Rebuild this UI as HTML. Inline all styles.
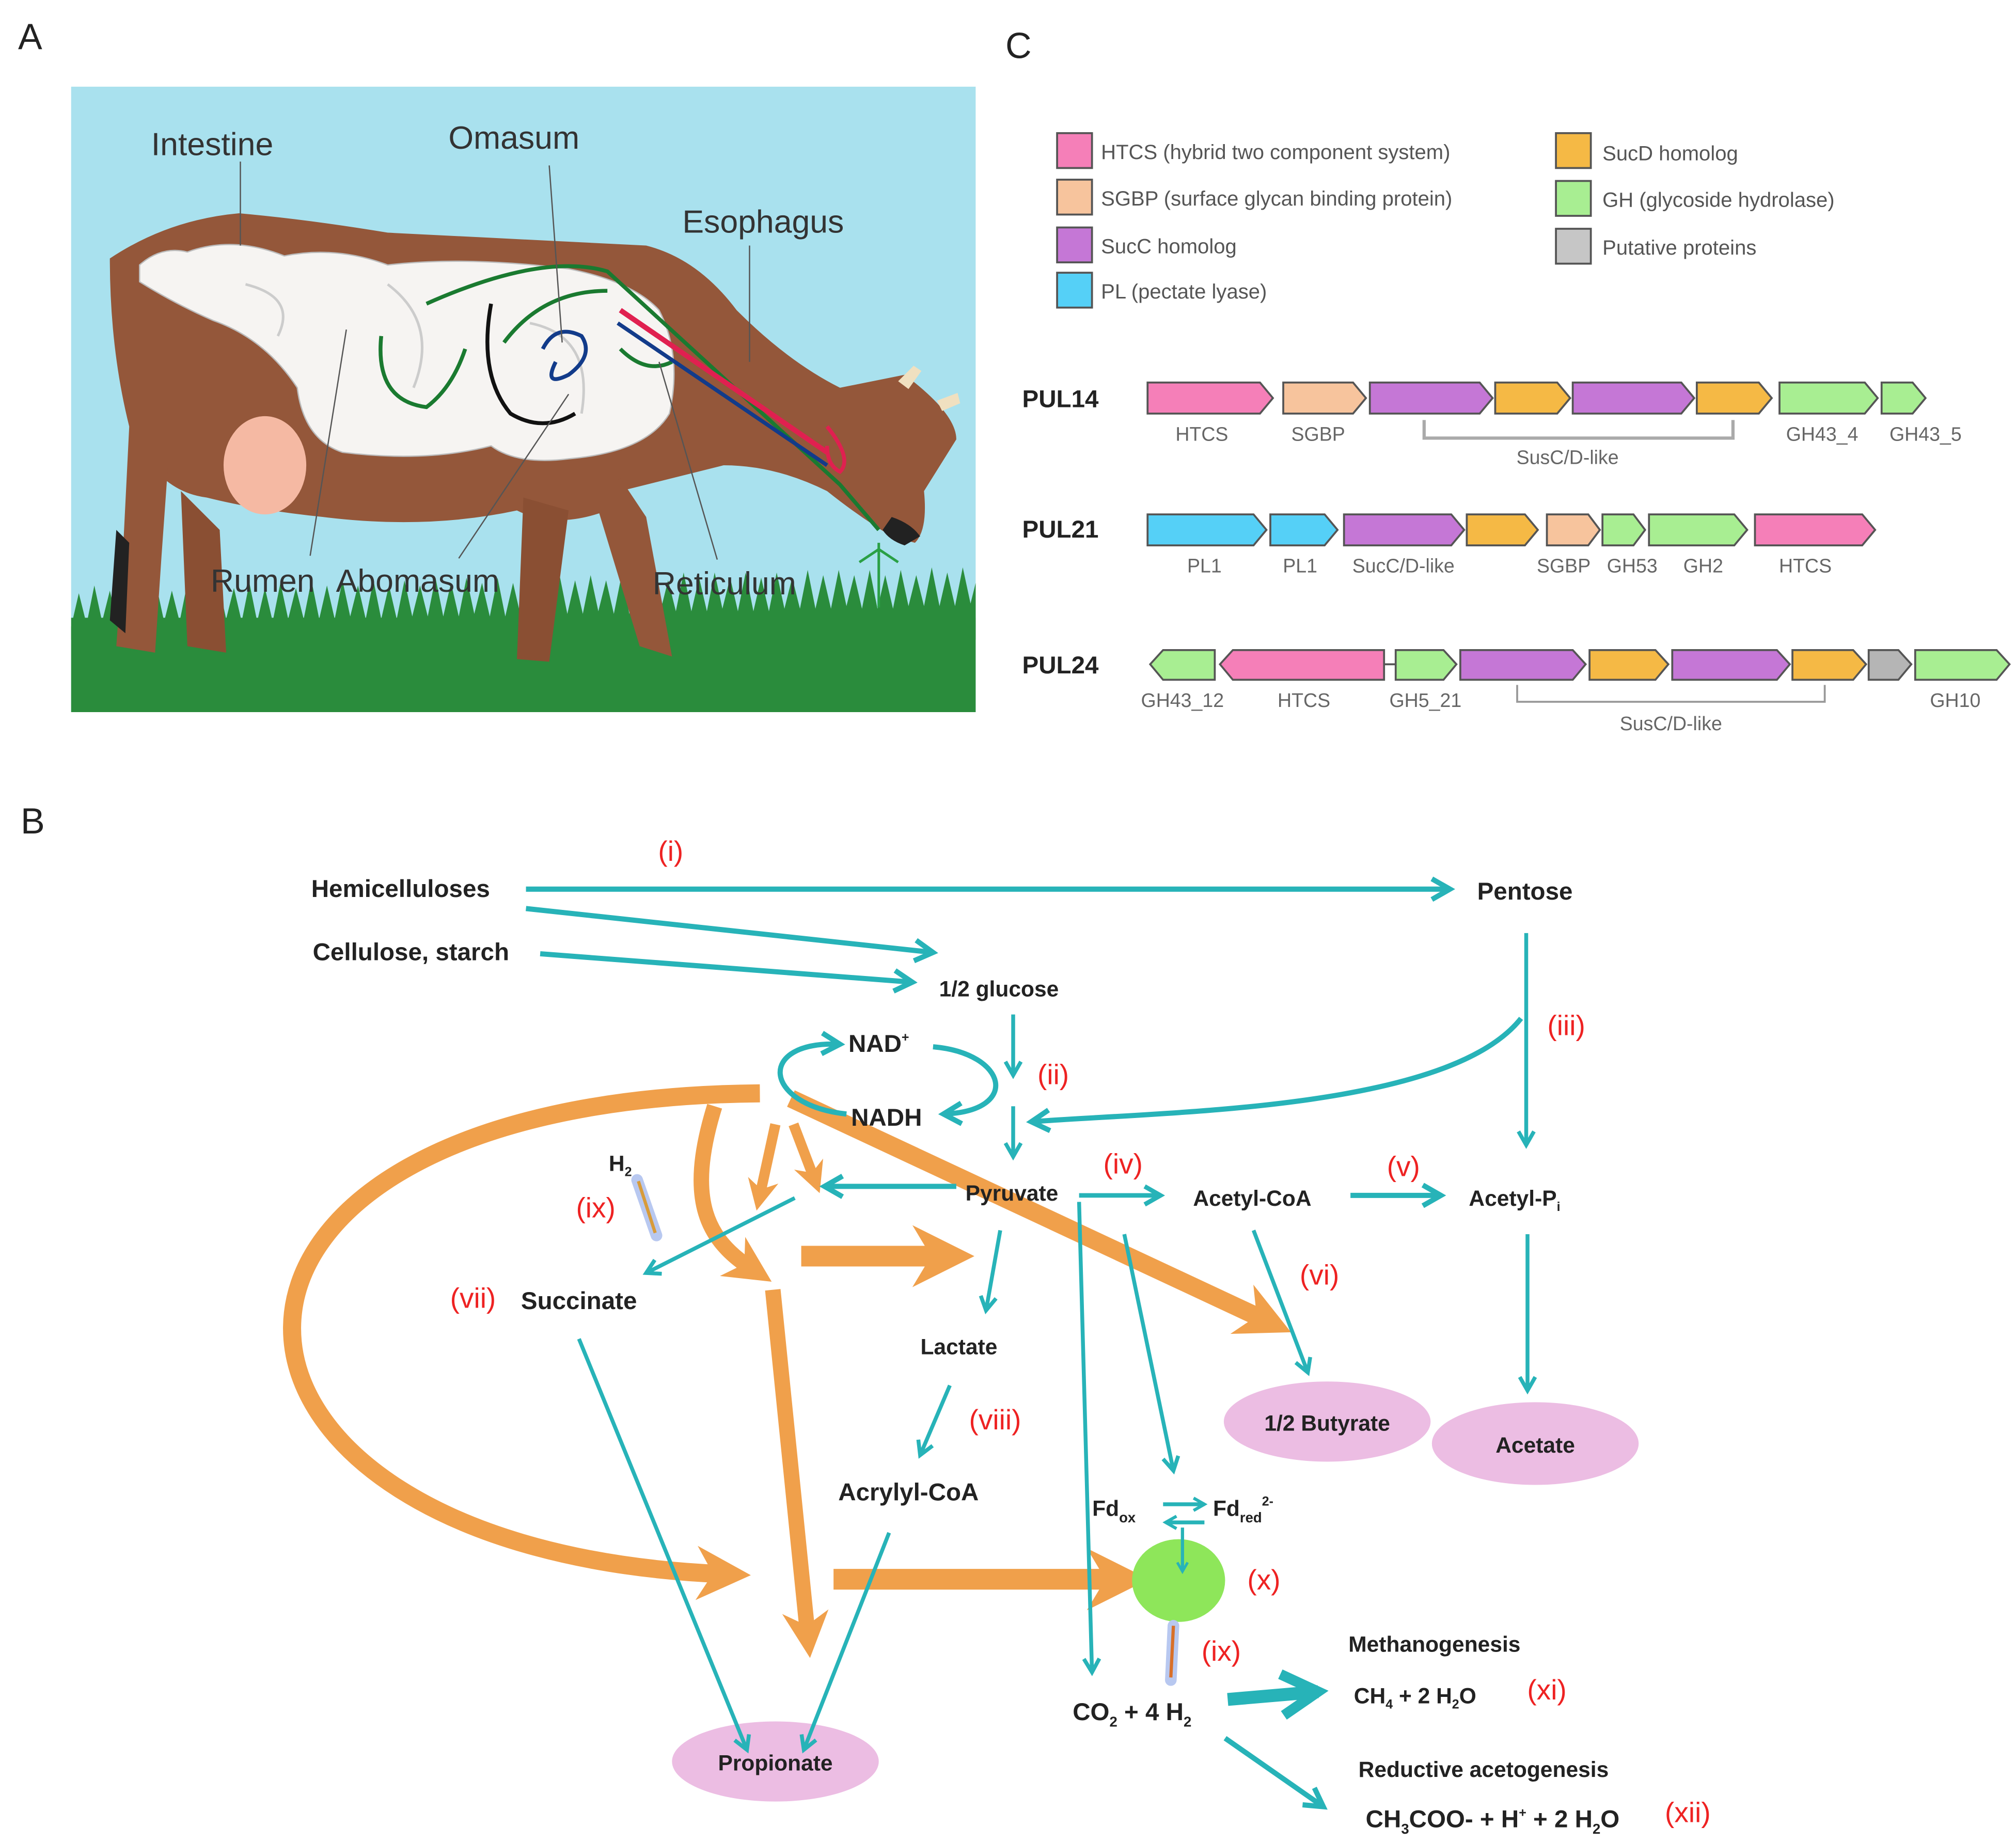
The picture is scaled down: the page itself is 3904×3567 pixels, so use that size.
<!DOCTYPE html>
<html><head><meta charset="utf-8"><style>
html,body{margin:0;padding:0;background:#fff;}
svg{display:block;}
text{font-family:"Liberation Sans",sans-serif;}
.lg{font-size:16px;fill:#555;}
.gl{font-size:15px;fill:#666;}
.pul{font-size:19px;font-weight:bold;fill:#222;}
.b{font-size:19px;font-weight:bold;fill:#222;}
.s{font-size:17px;font-weight:bold;fill:#222;}
.r{font-size:22px;fill:#ee2222;}
.cow{font-size:25px;fill:#333;}
</style></head><body>
<svg width="3904" height="3567" viewBox="0 0 1560 1425.3" xmlns="http://www.w3.org/2000/svg">
<defs>
<marker id="ta" viewBox="0 0 10 10" refX="8" refY="5" markerWidth="5" markerHeight="5" orient="auto" markerUnits="strokeWidth"><path d="M1,1 L8,5 L1,9" fill="none" stroke="#27b3b8" stroke-width="2"/></marker>
<marker id="tb" viewBox="0 0 10 10" refX="8" refY="5" markerWidth="4" markerHeight="4" orient="auto" markerUnits="strokeWidth"><path d="M1,1 L8,5 L1,9" fill="none" stroke="#27b3b8" stroke-width="2"/></marker>
<marker id="oa" viewBox="0 0 10 10" refX="5" refY="5" markerWidth="3" markerHeight="3.5" orient="auto" markerUnits="strokeWidth"><path d="M0,0 L10,5 L0,10 L3,5 Z" fill="#f0a04b"/></marker>
<clipPath id="pa"><rect x="55" y="67" width="700" height="484"/></clipPath>
</defs>
<rect width="1560" height="1425.3" fill="#fff"/>

<!-- Panel A -->
<text x="14" y="38" font-size="28" fill="#222">A</text>
<g clip-path="url(#pa)">
<rect x="55" y="67" width="700" height="484" fill="#a9e1ee"/>
<rect x="55" y="478" width="700" height="76" fill="#2a8c3c"/>
<path d="M55,485 l6,-26 l6,24 l6,-30 l6,28 l6,-24 l6,26 l6,-30 l6,30 l6,-26 l6,26 l6,-30 l6,28 l6,-24 l6,24 l6,-30 l6,30 l6,-26 l6,26 l6,-30 l6,28 l6,-24 l6,26 l6,-30 l6,30 l6,-26 l6,26 l6,-30 l6,28 l6,-24 l6,24 l6,-30 l6,30 l6,-26 l6,26 l6,-30 l6,28 l6,-24 l6,26 l6,-30 l6,30 l6,-26 l6,26 l6,-30 l6,28 l6,-24 l6,24 l6,-30 l6,30 l6,-26 l6,26 l6,-30 l6,28 l6,-24 l6,26 l6,-30 l6,30 l6,-26 l6,26 l6,-30 l6,28 l6,-24 l6,24 l6,-30 l6,30 l6,-26 l6,26 l6,-30 l6,28 l6,-24 l6,26 l6,-30 l6,30 l6,-26 l6,26 l6,-30 l6,28 l6,-24 l6,24 l6,-30 l6,30 l6,-26 l6,26 l6,-30 l6,28 l6,-24 l6,26 l6,-30 l6,30 l6,-26 l6,26 l6,-30 l6,28 l6,-24 l6,24 l6,-30 l6,30 l6,-26 l6,26 l6,-30 l6,28 l6,-24 l6,26 l6,-30 l6,30 l6,-26 l6,26 l6,-30 l6,28 l6,-24 l6,24 l6,-30 l6,30 l6,-26 l6,26 l6,-30 l6,28 l6,-24 l6,26 l6,-30 l6,30 l6,-26 l6,26 L755,495 L55,495 Z" fill="#2a8c3c"/>
<!-- cow body -->
<path d="M85,200 Q130,170 185,165 Q240,170 300,180 Q400,185 500,190 Q540,200 570,240 Q610,280 650,300 L700,290 Q740,320 740,340 L715,380 Q718,410 708,420 L690,415 Q665,400 640,380 Q600,360 560,360 Q520,370 480,380 L470,395 Q430,410 400,395 Q330,410 250,400 Q200,395 160,385 Q120,380 100,330 Q85,270 85,200 Z" fill="#94573a"/>
<path d="M100,330 L95,430 L90,500 L120,505 L125,430 L130,360 Z" fill="#94573a"/>
<path d="M140,380 L145,500 L175,505 L170,410 Z" fill="#8a4f33"/>
<path d="M405,385 L400,510 L425,512 L440,395 Z" fill="#8a4f33"/>
<path d="M460,385 L495,500 L520,508 L500,400 L480,370 Z" fill="#94573a"/>
<path d="M90,410 L85,480 L97,490 L100,420 Z" fill="#222"/>
<ellipse cx="205" cy="360" rx="32" ry="38" fill="#f5b9a3"/>
<path d="M695,295 l12,-12 l6,4 l-10,14 Z" fill="#f0e0c0"/>
<path d="M725,310 l16,-6 l2,8 l-14,6 Z" fill="#f0e0c0"/>
<path d="M690,400 Q705,405 712,415 L700,422 Q688,418 683,410 Z" fill="#222"/>
<path d="M108,205 Q125,190 145,195 Q180,182 220,198 Q260,190 300,205 Q360,198 440,208 Q490,218 510,240 Q528,275 518,320 Q500,350 440,355 Q400,360 380,345 Q330,358 265,350 Q235,340 230,300 Q205,262 165,248 Q135,235 108,218 Z" fill="#f6f4f2" stroke="#bbb" stroke-width="1"/>
<path d="M190,220 Q230,230 215,260 M300,220 Q340,250 320,300 M410,250 Q460,260 450,320" fill="none" stroke="#ccc" stroke-width="2"/>
<path d="M330,235 Q420,195 470,210 L650,375 L680,410" fill="none" stroke="#1a7a30" stroke-width="3"/>
<path d="M295,260 Q290,310 330,315 Q350,300 360,270" fill="none" stroke="#1a7a30" stroke-width="3"/>
<path d="M390,265 Q420,225 470,225" fill="none" stroke="#1a7a30" stroke-width="3"/>
<path d="M480,270 Q500,290 520,280" fill="none" stroke="#1a7a30" stroke-width="3"/>
<path d="M420,270 Q430,250 450,260 Q460,275 440,290 Q420,300 430,280" fill="none" stroke="#123b8a" stroke-width="3"/>
<path d="M480,240 L640,350" fill="none" stroke="#e02050" stroke-width="4"/>
<path d="M478,250 L640,360" fill="none" stroke="#123b8a" stroke-width="3"/>
<path d="M640,330 Q660,355 650,365 Q640,360 640,345" fill="none" stroke="#e02050" stroke-width="3"/>
<path d="M380,235 Q370,290 395,320 Q420,335 445,320" fill="none" stroke="#111" stroke-width="3"/>
<path d="M680,470 L680,420 M665,435 l15,-10 l15,10" fill="none" stroke="#2aa045" stroke-width="2"/>
<g stroke="#555" stroke-width="1" fill="none">
<line x1="186" y1="125" x2="186" y2="190"/>
<line x1="425" y1="128" x2="435" y2="265"/>
<line x1="580" y1="190" x2="580" y2="280"/>
<line x1="240" y1="430" x2="268" y2="255"/>
<line x1="355" y1="432" x2="440" y2="305"/>
<line x1="555" y1="433" x2="510" y2="280"/>
</g>
<text class="cow" x="117" y="120">Intestine</text>
<text class="cow" x="347" y="115">Omasum</text>
<text class="cow" x="528" y="180">Esophagus</text>
<text class="cow" x="163" y="458">Rumen</text>
<text class="cow" x="260" y="458">Abomasum</text>
<text class="cow" x="505" y="460">Reticulum</text>
</g>

<!-- Panel C -->
<text x="778" y="45" font-size="28" fill="#222">C</text>
<g stroke="#555" stroke-width="1.5">
<rect x="818" y="103" width="27" height="27" fill="#f57fb8"/>
<rect x="818" y="139" width="27" height="27" fill="#f7c49d"/>
<rect x="818" y="176" width="27" height="27" fill="#c577d6"/>
<rect x="818" y="211" width="27" height="27" fill="#55d0f7"/>
<rect x="1204" y="103" width="27" height="27" fill="#f5b945"/>
<rect x="1204" y="140" width="27" height="27" fill="#a8ee92"/>
<rect x="1204" y="177" width="27" height="27" fill="#c6c6c6"/>
</g>
<text class="lg" x="852" y="123">HTCS (hybrid two component system)</text>
<text class="lg" x="852" y="159">SGBP (surface glycan binding protein)</text>
<text class="lg" x="852" y="196">SucC homolog</text>
<text class="lg" x="852" y="231">PL (pectate lyase)</text>
<text class="lg" x="1240" y="124">SucD homolog</text>
<text class="lg" x="1240" y="160">GH (glycoside hydrolase)</text>
<text class="lg" x="1240" y="197">Putative proteins</text>

<g stroke="#555" stroke-width="1.5">
<polygon points="888,296 975,296 985,308 975,320 888,320" fill="#f57fb8"/>
<polygon points="993,296 1047,296 1057,308 1047,320 993,320" fill="#f7c49d"/>
<polygon points="1060,296 1145,296 1155,308 1145,320 1060,320" fill="#c577d6"/>
<polygon points="1157,296 1205,296 1215,308 1205,320 1157,320" fill="#f5b945"/>
<polygon points="1217,296 1301,296 1311,308 1301,320 1217,320" fill="#c577d6"/>
<polygon points="1313,296 1361,296 1371,308 1361,320 1313,320" fill="#f5b945"/>
<polygon points="1377,296 1443,296 1453,308 1443,320 1377,320" fill="#a8ee92"/>
<polygon points="1456,296 1480,296 1490,308 1480,320 1456,320" fill="#a8ee92"/>
<polygon points="888,398 970,398 980,410 970,422 888,422" fill="#55d0f7"/>
<polygon points="983,398 1025,398 1035,410 1025,422 983,422" fill="#55d0f7"/>
<polygon points="1040,398 1123,398 1133,410 1123,422 1040,422" fill="#c577d6"/>
<polygon points="1135,398 1180,398 1190,410 1180,422 1135,422" fill="#f5b945"/>
<polygon points="1197,398 1229,398 1238,410 1229,422 1197,422" fill="#f7c49d"/>
<polygon points="1240,398 1264,398 1273,410 1264,422 1240,422" fill="#a8ee92"/>
<polygon points="1276,398 1342,398 1352,410 1342,422 1276,422" fill="#a8ee92"/>
<polygon points="1358,398 1441,398 1451,410 1441,422 1358,422" fill="#f57fb8"/>
<polygon points="890,514 900,503 940,503 940,526 900,526" fill="#a8ee92"/>
<polygon points="944,514 954,503 1071,503 1071,526 954,526" fill="#f57fb8"/>
<polygon points="1080,503 1117,503 1127,514 1117,526 1080,526" fill="#a8ee92"/>
<polygon points="1130,503 1217,503 1227,514 1217,526 1130,526" fill="#c577d6"/>
<polygon points="1230,503 1281,503 1291,514 1281,526 1230,526" fill="#f5b945"/>
<polygon points="1294,503 1375,503 1385,514 1375,526 1294,526" fill="#c577d6"/>
<polygon points="1387,503 1434,503 1444,514 1434,526 1387,526" fill="#f5b945"/>
<polygon points="1446,503 1469,503 1479,514 1469,526 1446,526" fill="#b5b5b5"/>
<polygon points="1482,503 1545,503 1555,514 1545,526 1482,526" fill="#a8ee92"/>
</g>
<line x1="1071" y1="514" x2="1080" y2="514" stroke="#555" stroke-width="1.5"/>
<path d="M1102,325 V339 H1341 V325" fill="none" stroke="#aaa" stroke-width="2.5"/>
<path d="M1174,530 V543 H1412 V530" fill="none" stroke="#999" stroke-width="1.5"/>
<text class="pul" x="791" y="315">PUL14</text>
<text class="pul" x="791" y="416">PUL21</text>
<text class="pul" x="791" y="521">PUL24</text>
<g class="gl" text-anchor="middle">
<text x="930" y="341">HTCS</text><text x="1020" y="341">SGBP</text><text x="1410" y="341">GH43_4</text><text x="1490" y="341">GH43_5</text>
<text x="1213" y="359">SusC/D-like</text>
<text x="932" y="443">PL1</text><text x="1006" y="443">PL1</text><text x="1086" y="443">SucC/D-like</text><text x="1210" y="443">SGBP</text><text x="1263" y="443">GH53</text><text x="1318" y="443">GH2</text><text x="1397" y="443">HTCS</text>
<text x="915" y="547">GH43_12</text><text x="1009" y="547">HTCS</text><text x="1103" y="547">GH5_21</text><text x="1513" y="547">GH10</text>
<text x="1293" y="565">SusC/D-like</text>
</g>

<!-- Panel B -->
<text x="16" y="645" font-size="28" fill="#222">B</text>

<ellipse cx="1027" cy="1100" rx="80" ry="31" fill="#ecbde3"/>
<ellipse cx="1188" cy="1117" rx="80" ry="32" fill="#ecbde3"/>
<ellipse cx="600" cy="1363" rx="80" ry="31" fill="#ecbde3"/>

<g fill="none" stroke="#f0a04b" stroke-width="14">
<path d="M588,846 C100,850 120,1200 560,1218" marker-end="url(#oa)"/>
<path d="M612,850 L980,1022" marker-end="url(#oa)"/>
<path d="M553,856 C530,930 548,960 582,982" stroke-width="12" marker-end="url(#oa)"/>
<path d="M600,870 L588,925" stroke-width="8" marker-end="url(#oa)"/>
<path d="M614,870 L630,912" stroke-width="8" marker-end="url(#oa)"/>
<path d="M620,972 L730,972" stroke-width="16" marker-end="url(#oa)"/>
<path d="M598,998 L625,1265" stroke-width="12" marker-end="url(#oa)"/>
<path d="M645,1222 L865,1222" stroke-width="16" marker-end="url(#oa)"/>
</g>
<ellipse cx="912" cy="1223" rx="36" ry="32" fill="#8ee65a"/>

<g fill="none" stroke="#27b3b8" stroke-width="3">
<path d="M407,688 L1122,688" stroke-width="4" marker-end="url(#ta)"/>
<path d="M407,703 L722,737" stroke-width="4" marker-end="url(#ta)"/>
<path d="M418,738 L706,760" stroke-width="4" marker-end="url(#ta)"/>
<path d="M784,785 L784,832" marker-end="url(#ta)"/>
<path d="M784,856 L784,895" marker-end="url(#ta)"/>
<path d="M722,810 C780,815 790,860 730,862" stroke-width="4" marker-end="url(#ta)"/>
<path d="M655,862 C590,855 585,805 650,808" stroke-width="4" marker-end="url(#ta)"/>
<path d="M1181,722 L1181,886" marker-end="url(#ta)"/>
<path d="M1177,788 C1120,860 900,860 798,868" stroke-width="4" marker-end="url(#ta)"/>
<path d="M740,918 L638,918" stroke-width="4" marker-end="url(#ta)"/>
<path d="M835,925 L898,925" stroke-width="3.5" marker-end="url(#ta)"/>
<path d="M1045,925 L1115,925" stroke-width="4" marker-end="url(#ta)"/>
<path d="M1182,955 L1182,1076" marker-end="url(#ta)"/>
<path d="M970,952 L1012,1062" marker-end="url(#ta)"/>
<path d="M774,952 L763,1014" marker-end="url(#ta)"/>
<path d="M835,930 L845,1294" marker-end="url(#ta)"/>
<path d="M870,955 L908,1138" marker-end="url(#ta)"/>
<path d="M615,927 L500,985" marker-end="url(#ta)"/>
<path d="M448,1036 L578,1354" marker-end="url(#ta)"/>
<path d="M735,1072 L712,1126" marker-end="url(#ta)"/>
<path d="M688,1186 L622,1354" marker-end="url(#ta)"/>
<path d="M900,1164 L932,1164" stroke-width="3" marker-end="url(#tb)"/>
<path d="M932,1178 L902,1178" stroke-width="3" marker-end="url(#tb)"/>
<path d="M915,1182 L915,1216" stroke-width="2.5" marker-end="url(#tb)"/>
<path d="M950,1315 L1020,1309" stroke-width="10" marker-end="url(#tb)"/>
<path d="M948,1345 L1024,1398" stroke-width="4" marker-end="url(#ta)"/>
</g>
<line x1="493" y1="913" x2="508" y2="956" stroke="#b8c8f0" stroke-width="9" stroke-linecap="round"/>
<line x1="494" y1="914" x2="507" y2="954" stroke="#d89b3a" stroke-width="2.5"/>
<line x1="908" y1="1258" x2="906" y2="1300" stroke="#b8c8f0" stroke-width="9" stroke-linecap="round"/>
<line x1="908" y1="1258" x2="906" y2="1298" stroke="#d8702a" stroke-width="2.5"/>

<g text-anchor="middle">
<text class="b" x="310" y="694">Hemicelluloses</text>
<text class="b" x="318" y="743">Cellulose, starch</text>
<text class="b" x="1180" y="696">Pentose</text>
<text class="s" x="773" y="771">1/2 glucose</text>
<text class="b" x="680" y="814">NAD<tspan font-size="10" dy="-8">+</tspan></text>
<text class="b" x="686" y="871">NADH</text>
<text class="s" x="783" y="929">Pyruvate</text>
<text class="s" x="969" y="933">Acetyl-CoA</text>
<text class="s" x="1172" y="933">Acetyl-P<tspan font-size="10" dy="4">i</tspan></text>
<text class="s" x="480" y="906">H<tspan font-size="10" dy="4">2</tspan></text>
<text class="b" x="448" y="1013">Succinate</text>
<text class="s" x="742" y="1048">Lactate</text>
<text class="b" x="703" y="1161">Acrylyl-CoA</text>
<text class="s" x="1027" y="1107">1/2 Butyrate</text>
<text class="s" x="1188" y="1124">Acetate</text>
<text class="s" x="600" y="1370">Propionate</text>
<text class="s" x="862" y="1173">Fd<tspan font-size="11" dy="5">ox</tspan></text>
<text class="s" x="962" y="1173">Fd<tspan font-size="11" dy="5">red</tspan><tspan font-size="10" dy="-13">2-</tspan></text>
<text class="b" x="876" y="1331">CO<tspan font-size="11" dy="5">2</tspan><tspan dy="-5"> + 4 H</tspan><tspan font-size="11" dy="5">2</tspan></text>
<text class="s" x="1110" y="1278">Methanogenesis</text>
<text class="s" x="1095" y="1318">CH<tspan font-size="10" dy="4">4</tspan><tspan dy="-4"> + 2 H</tspan><tspan font-size="10" dy="4">2</tspan><tspan dy="-4">O</tspan></text>
<text class="s" x="1148" y="1375">Reductive acetogenesis</text>
<text class="b" x="1155" y="1414">CH<tspan font-size="11" dy="5">3</tspan><tspan dy="-5">COO- + H</tspan><tspan font-size="10" dy="-8">+</tspan><tspan dy="8"> + 2 H</tspan><tspan font-size="11" dy="5">2</tspan><tspan dy="-5">O</tspan></text>
</g>
<g text-anchor="middle">
<text class="r" x="519" y="666">(i)</text>
<text class="r" x="815" y="839">(ii)</text>
<text class="r" x="1212" y="801">(iii)</text>
<text class="r" x="869" y="908">(iv)</text>
<text class="r" x="1086" y="910">(v)</text>
<text class="r" x="1021" y="994">(vi)</text>
<text class="r" x="366" y="1012">(vii)</text>
<text class="r" x="770" y="1106">(viii)</text>
<text class="r" x="461" y="942">(ix)</text>
<text class="r" x="978" y="1230">(x)</text>
<text class="r" x="945" y="1285">(ix)</text>
<text class="r" x="1197" y="1315">(xi)</text>
<text class="r" x="1306" y="1410">(xii)</text>
</g>
</svg>
</body></html>
